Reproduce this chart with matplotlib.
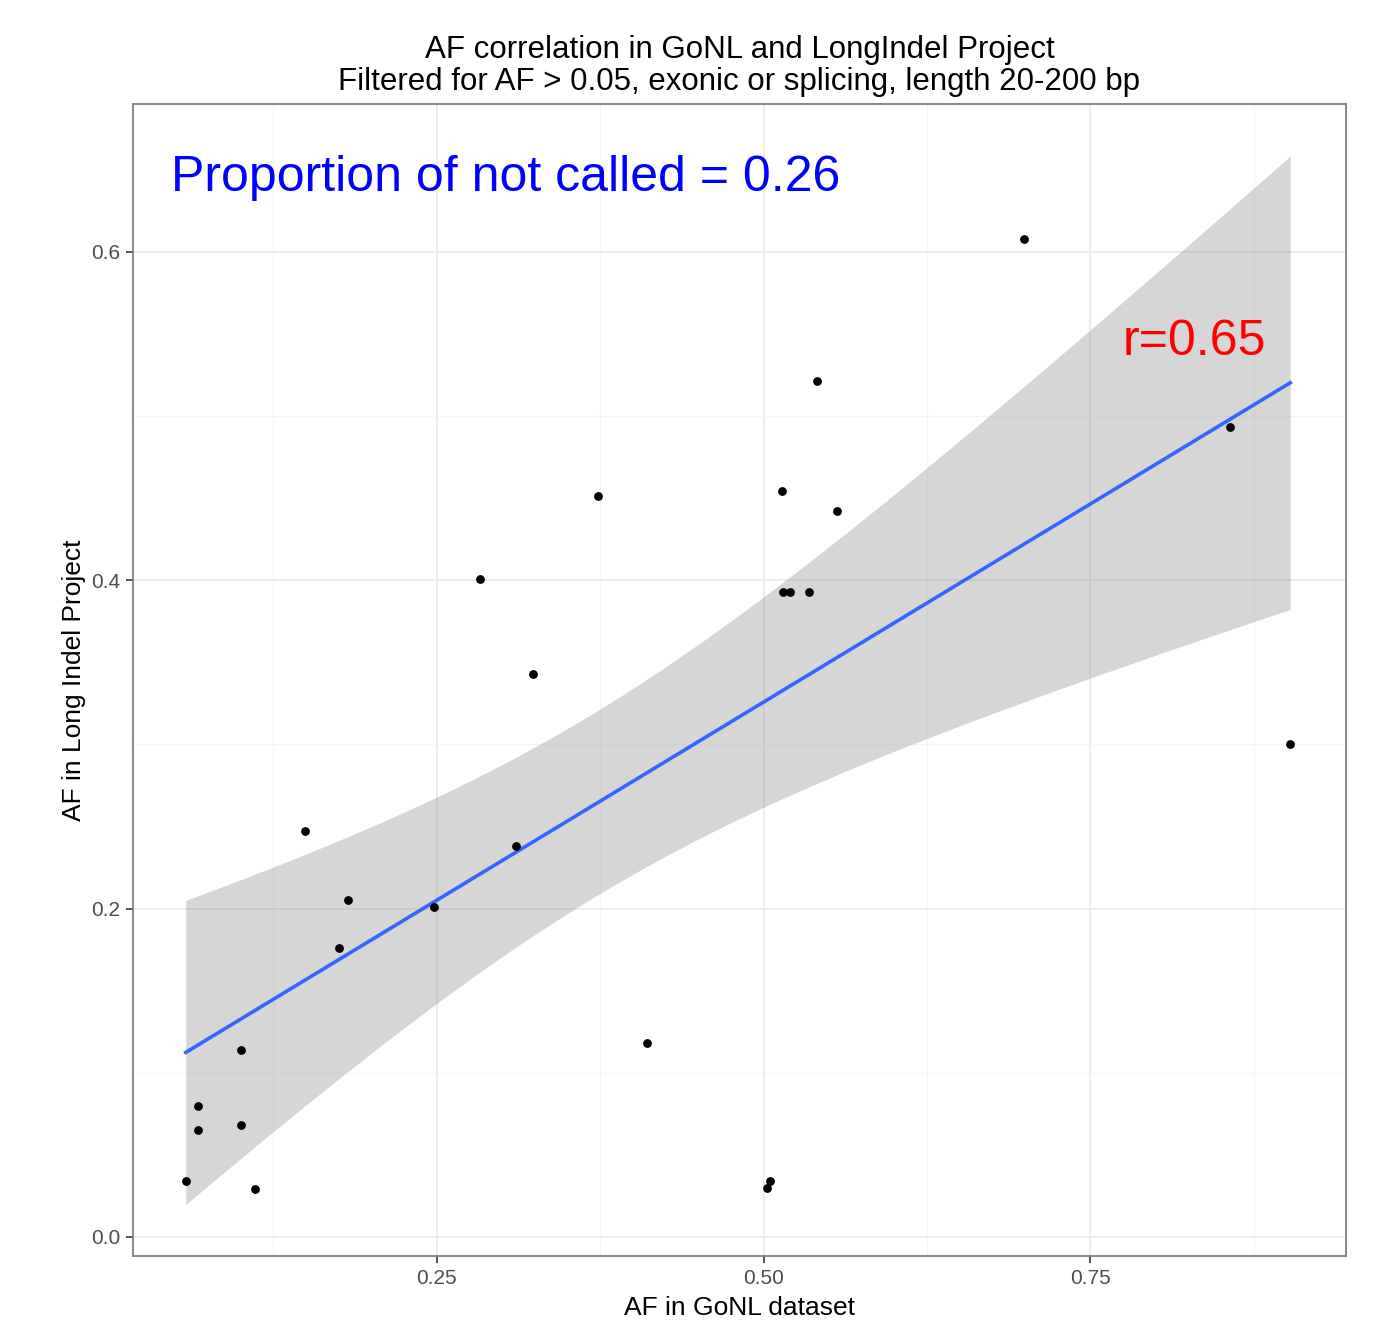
import numpy as np
import matplotlib.pyplot as plt

plt.rcParams['font.family'] = ['Liberation Sans', 'DejaVu Sans']

# AF values
af_gonl = [0.058, 0.067, 0.067, 0.100, 0.100, 0.111, 0.149, 0.175, 0.182, 0.248,
           0.283, 0.311, 0.324, 0.373, 0.411, 0.503, 0.505, 0.514, 0.515, 0.520,
           0.535, 0.541, 0.556, 0.699, 0.857, 0.903]
af_long = [0.034, 0.080, 0.065, 0.114, 0.068, 0.029, 0.247, 0.176, 0.205, 0.201,
           0.401, 0.238, 0.343, 0.451, 0.118, 0.030, 0.034, 0.454, 0.393, 0.393,
           0.393, 0.521, 0.442, 0.608, 0.493, 0.300]

x = np.array(af_gonl)
y = np.array(af_long)

# linear fit with 95% confidence band
n = len(x)
slope, intercept = np.polyfit(x, y, 1)
resid = y - (slope * x + intercept)
s = np.sqrt(np.sum(resid ** 2) / (n - 2))
t = 2.0639  # t(0.975, df=24)
xs = np.linspace(x.min(), x.max(), 80)
ys = slope * xs + intercept
se = s * np.sqrt(1 / n + (xs - x.mean()) ** 2 / np.sum((x - x.mean()) ** 2))

fig = plt.figure(figsize=(13.88, 13.21), dpi=100)
ax = fig.add_axes([0.0958, 0.0492, 0.8739, 0.8721])

ax.fill_between(xs, ys - t * se, ys + t * se, color='#999999', alpha=0.4, lw=0, zorder=2)
ax.plot(xs, ys, color='#3366FF', lw=2.6, zorder=3)
ax.scatter(x, y, s=40, color='black', zorder=4, linewidths=0)

ax.set_xlim(0.0176, 0.9456)
ax.set_ylim(-0.0116, 0.690)
ax.set_xticks([0.25, 0.50, 0.75])
ax.set_xticklabels(['0.25', '0.50', '0.75'])
ax.set_yticks([0.0, 0.2, 0.4, 0.6])
ax.set_yticklabels(['0.0', '0.2', '0.4', '0.6'])
ax.set_xticks([0.125, 0.375, 0.625, 0.875], minor=True)
ax.set_yticks([0.1, 0.3, 0.5], minor=True)
ax.grid(which='major', color='#EBEBEB', lw=1.3, zorder=0)
ax.grid(which='minor', color='#F5F5F5', lw=0.8, zorder=0)
ax.set_axisbelow(True)
ax.tick_params(which='major', length=5, width=1.2, color='#333333',
               labelsize=15, labelcolor='#4D4D4D', pad=4)
ax.tick_params(which='minor', length=0)
for sp in ax.spines.values():
    sp.set_color('#7F7F7F')
    sp.set_linewidth(1.3)

ax.set_xlabel('AF in GoNL dataset', fontsize=19, labelpad=6)
ax.set_ylabel('AF in Long Indel Project', fontsize=19, labelpad=4)
ax.set_title('AF correlation in GoNL and LongIndel Project\n'
             'Filtered for AF > 0.05, exonic or splicing, length 20-200 bp',
             fontsize=22.5, linespacing=1.08, pad=10)

ax.text(0.047, 0.645, 'Proportion of not called = 0.26', color='blue', fontsize=36,
        va='center', ha='left')
ax.text(0.83, 0.545, 'r=0.65', color='red', fontsize=36, va='center', ha='center')

fig.savefig('out.png', dpi=100)
